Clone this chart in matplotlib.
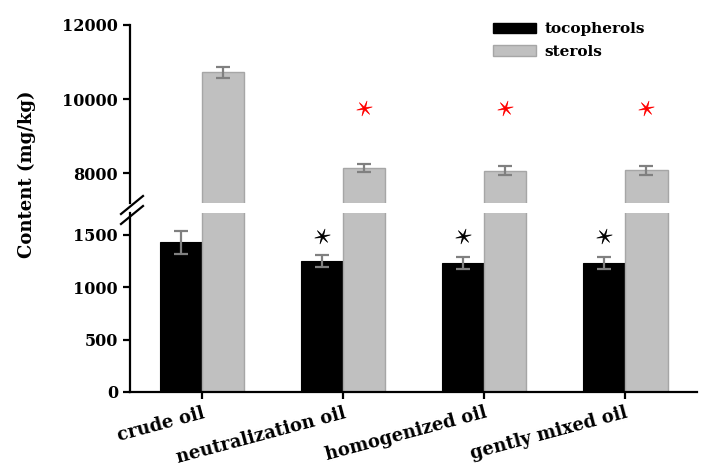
import matplotlib

matplotlib.use("Agg")
import matplotlib.pyplot as plt
import numpy as np
from matplotlib.lines import Line2D
from matplotlib.patches import Patch
from matplotlib.path import Path

categories = ["crude oil", "neutralization oil", "homogenized oil", "gently mixed oil"]
tocopherols = [1426, 1250, 1226, 1231]
tocopherols_err = [112, 55, 57, 57]
sterols = [10720, 8145, 8072, 8080]
sterols_err = [160, 110, 120, 120]
toco_significant = [False, True, True, True]
sterol_significant = [False, True, True, True]

BLACK = "#000000"
GRAY = "#C0C0C0"
GRAY_EDGE = "#A6A6A6"
ERR = "#808080"
FONT = "DejaVu Serif"

plt.rcParams.update({"font.family": FONT, "font.weight": "bold", "font.size": 11.5})


def thin_star(points=6, inner=0.2, turn=0.2):
    angles = np.linspace(0, 2 * np.pi, 2 * points, endpoint=False) + turn
    radii = np.tile([1.0, inner], points)
    verts = np.column_stack([radii * np.cos(angles), radii * np.sin(angles)])
    verts = np.vstack([verts, verts[:1]])
    codes = [Path.MOVETO] + [Path.LINETO] * (len(verts) - 2) + [Path.CLOSEPOLY]
    return Path(verts, codes)


fig = plt.figure(figsize=(7.1, 4.67), dpi=100)
left, width = 0.183, 0.799
ax_top = fig.add_axes([left, 0.5653, width, 0.3812])
ax_bot = fig.add_axes([left, 0.1606, width, 0.3833])

x = np.arange(len(categories))
w = 0.3
err_kw = {"ecolor": ERR, "elinewidth": 1.6, "capsize": 5, "capthick": 1.6}

for ax in (ax_top, ax_bot):
    ax.bar(x - w / 2, tocopherols, w, color=BLACK, edgecolor=BLACK, linewidth=0.8,
           yerr=tocopherols_err, error_kw=err_kw, zorder=2)
    ax.bar(x + w / 2, sterols, w, color=GRAY, edgecolor=GRAY_EDGE, linewidth=1.0,
           yerr=sterols_err, error_kw=err_kw, zorder=2)
    ax.set_xlim(-0.51, 3.51)
    for side in ("top", "right"):
        ax.spines[side].set_visible(False)
    ax.spines["left"].set_linewidth(1.6)
    ax.spines["bottom"].set_linewidth(1.6)
    ax.tick_params(axis="y", direction="out", length=5, width=1.6, labelsize=11.5)
    ax.tick_params(axis="x", direction="out", length=5, width=1.6)

ax_top.set_ylim(7200, 12000)
ax_top.set_yticks([8000, 10000, 12000])
ax_top.spines["bottom"].set_visible(False)
ax_top.set_xticks([])

ax_bot.set_ylim(0, 1705)
ax_bot.set_yticks([0, 500, 1000, 1500])
ax_bot.set_xticks(x)
ax_bot.set_xticklabels(categories, rotation=15, ha="right", rotation_mode="anchor", fontsize=13)

# significance markers above the bars
STAR_TOCO = 1486
STAR_STEROL = 9770
star = thin_star()
tx = [xi - w / 2 for xi, s in zip(x, toco_significant) if s]
ax_bot.plot(tx, [STAR_TOCO] * len(tx), linestyle="none", marker=star,
            markersize=11, color=BLACK, markeredgewidth=0.5)
sx = [xi + w / 2 for xi, s in zip(x, sterol_significant) if s]
ax_top.plot(sx, [STAR_STEROL] * len(sx), linestyle="none", marker=star,
            markersize=11, color="#FF0000", markeredgewidth=0.5)

# axis break marks
W, H = 710, 467
for y0 in (214, 224):
    fig.add_artist(Line2D([121 / W, 143 / W], [1 - y0 / H, 1 - (y0 - 18) / H],
                          color=BLACK, linewidth=1.6))

fig.text(27 / W, 1 - 174 / H, "Content (mg/kg)", rotation=90, ha="center", va="center",
         fontsize=13, fontweight="bold")

handles = [Patch(facecolor=BLACK, edgecolor=BLACK), Patch(facecolor=GRAY, edgecolor=GRAY_EDGE)]
ax_top.legend(handles, ["tocopherols", "sterols"], loc="upper left",
              bbox_to_anchor=(0.6155, 1.0916), frameon=False, fontsize=11,
              handlelength=2.8, handleheight=0.65, labelspacing=0.55, handletextpad=0.6)

fig.savefig("out.png", dpi=100)
